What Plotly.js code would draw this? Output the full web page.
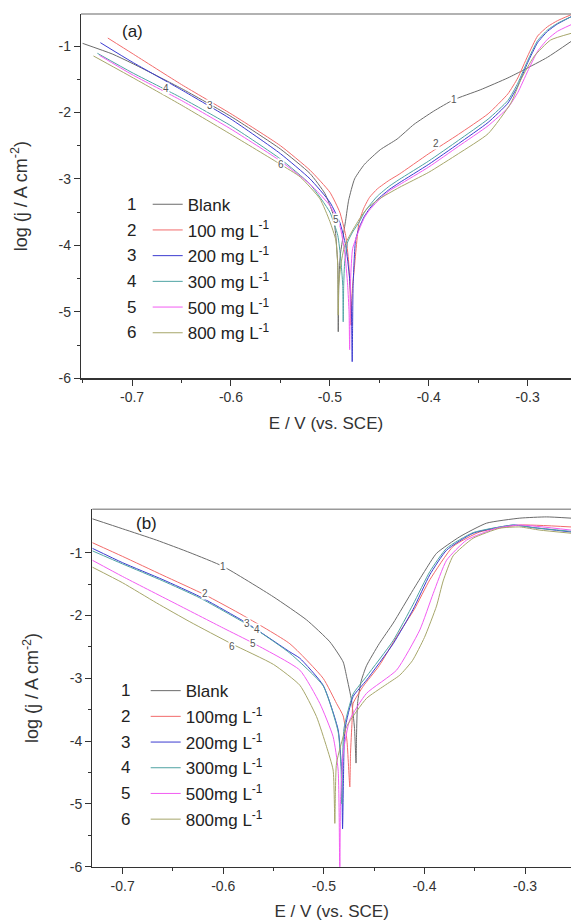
<!DOCTYPE html>
<html><head><meta charset="utf-8">
<script src="https://cdn.plot.ly/plotly-3.0.1.min.js"></script>
<style>html,body{margin:0;padding:0;background:#fff;}#chart{width:571px;height:921px;}</style>
</head><body><div id="chart"></div>
<script>
// ---------- Panel (a) data: E (V vs SCE), log j (A cm-2) ----------
const a1E = [-0.750,-0.720,-0.700,-0.650,-0.600,-0.550,-0.520,-0.505,-0.497,-0.494,-0.492,-0.4915,-0.491,-0.4895,-0.487,-0.484,-0.481,-0.475,-0.465,-0.449,-0.432,-0.415,-0.395,-0.375,-0.348,-0.320,-0.304,-0.280,-0.256];
const a1J = [-0.96,-1.12,-1.26,-1.64,-2.06,-2.55,-2.92,-3.22,-3.52,-3.85,-4.30,-5.30,-4.60,-4.15,-3.90,-3.62,-3.32,-3.00,-2.78,-2.56,-2.40,-2.18,-1.98,-1.81,-1.66,-1.48,-1.36,-1.17,-0.93];
const a2E = [-0.7245,-0.700,-0.650,-0.600,-0.550,-0.520,-0.500,-0.490,-0.484,-0.481,-0.4795,-0.4786,-0.478,-0.477,-0.4757,-0.4707,-0.466,-0.460,-0.452,-0.440,-0.430,-0.400,-0.370,-0.340,-0.320,-0.310,-0.300,-0.290,-0.280,-0.270,-0.2562];
const a2J = [-0.88,-1.11,-1.58,-2.02,-2.50,-2.87,-3.20,-3.50,-3.85,-4.25,-4.70,-5.20,-4.85,-4.60,-4.42,-3.67,-3.45,-3.28,-3.15,-3.02,-2.93,-2.62,-2.33,-2.02,-1.72,-1.48,-1.15,-0.85,-0.71,-0.62,-0.53];
const a3E = [-0.732,-0.700,-0.650,-0.600,-0.550,-0.520,-0.500,-0.490,-0.484,-0.480,-0.4782,-0.4774,-0.4770,-0.4765,-0.474,-0.470,-0.465,-0.460,-0.452,-0.440,-0.430,-0.400,-0.370,-0.340,-0.320,-0.310,-0.300,-0.290,-0.280,-0.270,-0.2562];
const a3J = [-0.95,-1.24,-1.66,-2.10,-2.62,-3.00,-3.35,-3.65,-4.00,-4.50,-5.00,-5.75,-5.20,-4.60,-3.92,-3.72,-3.56,-3.45,-3.31,-3.16,-3.06,-2.78,-2.47,-2.15,-1.86,-1.60,-1.25,-0.95,-0.78,-0.67,-0.56];
const a4E = [-0.735,-0.700,-0.650,-0.600,-0.550,-0.520,-0.500,-0.492,-0.489,-0.487,-0.4865,-0.486,-0.485,-0.482,-0.477,-0.470,-0.465,-0.460,-0.452,-0.440,-0.430,-0.400,-0.370,-0.340,-0.320,-0.310,-0.300,-0.290,-0.280,-0.270,-0.2562];
const a4J = [-1.11,-1.40,-1.78,-2.20,-2.70,-3.08,-3.50,-3.85,-4.20,-4.60,-5.15,-4.60,-4.25,-3.95,-3.80,-3.64,-3.50,-3.40,-3.26,-3.11,-3.01,-2.73,-2.42,-2.10,-1.82,-1.56,-1.22,-0.92,-0.76,-0.66,-0.56];
const a5E = [-0.733,-0.700,-0.650,-0.600,-0.550,-0.520,-0.500,-0.490,-0.485,-0.482,-0.4806,-0.4800,-0.4795,-0.479,-0.477,-0.470,-0.465,-0.460,-0.452,-0.440,-0.430,-0.400,-0.370,-0.340,-0.320,-0.310,-0.300,-0.290,-0.280,-0.270,-0.2562];
const a5J = [-1.14,-1.43,-1.82,-2.25,-2.73,-3.08,-3.40,-3.70,-4.10,-4.60,-5.00,-5.57,-5.00,-4.50,-4.05,-3.75,-3.58,-3.47,-3.34,-3.18,-3.09,-2.82,-2.51,-2.20,-1.93,-1.70,-1.38,-1.08,-0.90,-0.78,-0.68];
const a6E = [-0.739,-0.700,-0.650,-0.600,-0.550,-0.530,-0.510,-0.500,-0.494,-0.492,-0.4915,-0.491,-0.489,-0.485,-0.478,-0.470,-0.462,-0.450,-0.430,-0.400,-0.370,-0.340,-0.317,-0.307,-0.2937,-0.2768,-0.2562];
const a6J = [-1.15,-1.47,-1.89,-2.33,-2.78,-2.97,-3.30,-3.64,-3.92,-4.30,-5.05,-4.60,-4.30,-4.00,-3.80,-3.60,-3.44,-3.30,-3.13,-2.90,-2.62,-2.32,-1.86,-1.51,-1.16,-0.91,-0.81];

// ---------- Panel (b) data ----------
const b1E = [-0.7302,-0.700,-0.6663,-0.633,-0.600,-0.5504,-0.5172,-0.494,-0.4808,-0.4774,-0.4725,-0.4695,-0.468,-0.4675,-0.4665,-0.463,-0.4576,-0.445,-0.431,-0.4112,-0.400,-0.388,-0.3648,-0.3383,-0.3052,-0.2786,-0.2543];
const b1J = [-0.46,-0.62,-0.80,-1.00,-1.22,-1.70,-2.07,-2.42,-2.74,-2.97,-3.35,-3.80,-4.35,-3.90,-3.40,-3.05,-2.80,-2.45,-2.12,-1.59,-1.30,-1.01,-0.745,-0.53,-0.45,-0.43,-0.45];
const b2E = [-0.7302,-0.700,-0.660,-0.6183,-0.5802,-0.5338,-0.5007,-0.4874,-0.4808,-0.477,-0.4742,-0.4735,-0.472,-0.4709,-0.461,-0.445,-0.4277,-0.410,-0.3946,-0.3715,-0.345,-0.3052,-0.2543];
const b2J = [-0.84,-1.06,-1.36,-1.67,-2.00,-2.45,-3.00,-3.40,-3.60,-4.00,-4.73,-4.20,-3.70,-3.40,-3.13,-2.80,-2.34,-1.90,-1.43,-0.90,-0.67,-0.56,-0.59];
const b3E = [-0.7302,-0.700,-0.660,-0.6233,-0.5768,-0.5338,-0.5239,-0.5007,-0.4858,-0.4824,-0.4814,-0.4805,-0.4791,-0.4709,-0.4576,-0.4311,-0.4112,-0.3946,-0.378,-0.3516,-0.3118,-0.2919,-0.2543];
const b3J = [-0.93,-1.16,-1.43,-1.70,-2.12,-2.58,-2.68,-3.11,-3.82,-4.46,-5.40,-4.60,-3.82,-3.29,-3.03,-2.45,-1.90,-1.35,-0.96,-0.69,-0.56,-0.60,-0.67];
const b4E = [-0.7302,-0.700,-0.660,-0.6233,-0.5669,-0.5338,-0.5007,-0.4858,-0.483,-0.4822,-0.4815,-0.480,-0.4709,-0.4576,-0.4311,-0.4112,-0.3946,-0.378,-0.3516,-0.3118,-0.2919,-0.2543];
const b4J = [-0.97,-1.18,-1.45,-1.72,-2.23,-2.60,-3.12,-3.85,-4.40,-5.00,-4.40,-3.80,-3.25,-2.97,-2.40,-1.82,-1.30,-0.93,-0.68,-0.56,-0.60,-0.66];
const b5E = [-0.7302,-0.700,-0.650,-0.600,-0.5703,-0.5239,-0.504,-0.4908,-0.4858,-0.4841,-0.4835,-0.4808,-0.4742,-0.4576,-0.4277,-0.4046,-0.3913,-0.378,-0.3582,-0.3283,-0.3052,-0.2543];
const b5J = [-1.12,-1.38,-1.79,-2.20,-2.44,-2.87,-3.40,-3.93,-4.46,-6.30,-5.00,-4.19,-3.66,-3.24,-2.87,-2.23,-1.65,-1.12,-0.80,-0.61,-0.56,-0.64];
const b6E = [-0.7302,-0.700,-0.6663,-0.6332,-0.5918,-0.550,-0.5239,-0.5073,-0.4973,-0.4908,-0.4891,-0.4885,-0.4874,-0.4774,-0.4576,-0.440,-0.4245,-0.412,-0.400,-0.388,-0.3814,-0.3715,-0.3516,-0.325,-0.3052,-0.2853,-0.2543];
const b6J = [-1.23,-1.48,-1.80,-2.10,-2.45,-2.78,-3.11,-3.61,-4.09,-4.46,-5.31,-4.80,-4.35,-3.77,-3.32,-3.12,-2.95,-2.72,-2.35,-1.85,-1.45,-1.05,-0.77,-0.61,-0.59,-0.64,-0.69];

// ---------- Labels ----------
const curveNums = ['1','2','3','4','5','6'];
const namesA = ['Blank','100 mg L<sup>-1</sup>','200 mg L<sup>-1</sup>','300 mg L<sup>-1</sup>','500 mg L<sup>-1</sup>','800 mg L<sup>-1</sup>'];
const namesB = ['Blank','100mg L<sup>-1</sup>','200mg L<sup>-1</sup>','300mg L<sup>-1</sup>','500mg L<sup>-1</sup>','800mg L<sup>-1</sup>'];
const xTickVals = [-0.7,-0.6,-0.5,-0.4,-0.3];
const xTickText = ['-0.7','-0.6','-0.5','-0.4','-0.3'];
const yTickVals = [-6,-5,-4,-3,-2,-1];
const yTickText = ['-6','-5','-4','-3','-2','-1'];
const xMinorVals = [-0.75,-0.65,-0.55,-0.45,-0.35,-0.25];
const yMinorVals = [-5.5,-4.5,-3.5,-2.5,-1.5];
const xTitle = 'E / V (vs. SCE)';
const yTitle = 'log (j / A cm<sup>-2</sup>)';
// on-curve number labels: [curve number, E, log j]
const aCurveLabels = [['1',-0.3746,-1.81],['2',-0.393,-2.47],['3',-0.6213,-1.89],['4',-0.666,-1.64],['5',-0.4943,-3.61],['6',-0.5498,-2.78]];
const bCurveLabels = [['1',-0.600,-1.22],['2',-0.6183,-1.65],['3',-0.5768,-2.12],['4',-0.5669,-2.23],['5',-0.5703,-2.44],['6',-0.5918,-2.50]];

// ---------- Styles ----------
const colors = ['#6b6b6b','#f26b6b','#3b3bd0','#4fa3a3','#f25cf2','#a6a66a'];
const FONT = 'Arial, "Liberation Sans", sans-serif';
const W = 571, H = 921;
const px = v => v / W;
const py = v => (H - v) / H;

const aE = [a1E,a2E,a3E,a4E,a5E,a6E], aJ = [a1J,a2J,a3J,a4J,a5J,a6J];
const bE = [b1E,b2E,b3E,b4E,b5E,b6E], bJ = [b1J,b2J,b3J,b4J,b5J,b6J];

const traces = [];
for (let i = 0; i < 6; i++) {
  traces.push({x: aE[i], y: aJ[i], xaxis: 'x', yaxis: 'y', type: 'scatter', mode: 'lines',
    name: namesA[i], legend: 'legend', legendgroup: 'a' + i,
    line: {color: colors[i], width: 1, shape: 'spline', smoothing: 0.5}, hoverinfo: 'skip'});
}
for (let i = 0; i < 6; i++) {
  traces.push({x: bE[i], y: bJ[i], xaxis: 'x2', yaxis: 'y2', type: 'scatter', mode: 'lines',
    name: namesB[i], legend: 'legend2', legendgroup: 'b' + i,
    line: {color: colors[i], width: 1, shape: 'spline', smoothing: 0.5}, hoverinfo: 'skip'});
}

function xax(domain, range, anchor) {
  return {domain: domain, range: range, anchor: anchor, tickmode: 'array', tickvals: xTickVals, ticktext: xTickText,
    ticks: 'outside', ticklen: 6, tickwidth: 1, tickcolor: '#333', showline: true, linecolor: '#333', linewidth: 1.2,
    showgrid: false, zeroline: false, tickfont: {family: FONT, size: 14, color: '#333'},
    minor: {tickmode: 'array', tickvals: xMinorVals, ticks: 'outside', ticklen: 3, tickwidth: 1, tickcolor: '#333', showgrid: false},
    title: {text: xTitle, font: {family: FONT, size: 17, color: '#333'}, standoff: 12}};
}
function yax(domain, range, anchor) {
  return {domain: domain, range: range, anchor: anchor, tickmode: 'array', tickvals: yTickVals, ticktext: yTickText,
    ticks: 'outside', ticklen: 6, tickwidth: 1, tickcolor: '#333', showline: true, linecolor: '#333', linewidth: 1.2,
    showgrid: false, zeroline: false, tickfont: {family: FONT, size: 14, color: '#333'},
    minor: {tickmode: 'array', tickvals: yMinorVals, ticks: 'outside', ticklen: 3, tickwidth: 1, tickcolor: '#333', showgrid: false},
    title: {text: yTitle, font: {family: FONT, size: 18, color: '#333'}, standoff: 26}};
}

const annotations = [];
aCurveLabels.forEach(l => annotations.push({x: l[1], y: l[2], xref: 'x', yref: 'y', text: l[0], showarrow: false,
  font: {family: FONT, size: 10, color: '#555'}, bgcolor: 'white', borderpad: 0}));
bCurveLabels.forEach(l => annotations.push({x: l[1], y: l[2], xref: 'x2', yref: 'y2', text: l[0], showarrow: false,
  font: {family: FONT, size: 10, color: '#555'}, bgcolor: 'white', borderpad: 0}));
annotations.push({x: -0.6996, y: -0.785, xref: 'x', yref: 'y', text: '(a)', showarrow: false, font: {family: FONT, size: 17, color: '#222'}});
annotations.push({x: -0.676, y: -0.53, xref: 'x2', yref: 'y2', text: '(b)', showarrow: false, font: {family: FONT, size: 17, color: '#222'}});
// legend numbers
const rowGap = 25.7;
curveNums.forEach((n, k) => {
  annotations.push({x: px(131.7), y: py(204.3 + k * rowGap), xref: 'paper', yref: 'paper', text: n, showarrow: false,
    xanchor: 'center', yanchor: 'middle', font: {family: FONT, size: 17, color: '#222'}});
  annotations.push({x: px(125.7), y: py(690.7 + k * rowGap), xref: 'paper', yref: 'paper', text: n, showarrow: false,
    xanchor: 'center', yanchor: 'middle', font: {family: FONT, size: 17, color: '#222'}});
});

const layout = {
  width: W, height: H, margin: {l: 0, r: 0, t: 0, b: 0}, paper_bgcolor: 'white', plot_bgcolor: 'white',
  showlegend: true,
  xaxis: xax([px(81), 1], [-0.7516, -0.2562], 'y'),
  yaxis: yax([py(378.3), py(14)], [-6, -0.5185], 'x'),
  xaxis2: xax([px(92.3), 1], [-0.7302, -0.2543], 'y2'),
  yaxis2: yax([py(866.7), py(509.3)], [-6, -0.309], 'x2'),
  legend: {x: px(147.7), y: py(186.7), xanchor: 'left', yanchor: 'top', bgcolor: 'rgba(0,0,0,0)', borderwidth: 0,
    traceorder: 'grouped', tracegroupgap: 0.6, font: {family: FONT, size: 17, color: '#222'}},
  legend2: {x: px(145.7), y: py(673.1), xanchor: 'left', yanchor: 'top', bgcolor: 'rgba(0,0,0,0)', borderwidth: 0,
    traceorder: 'grouped', tracegroupgap: 0.6, font: {family: FONT, size: 17, color: '#222'}},
  shapes: [
    {type: 'line', xref: 'paper', yref: 'paper', x0: px(81), x1: 1, y0: py(14), y1: py(14), line: {color: '#999', width: 1.5}},
    {type: 'line', xref: 'paper', yref: 'paper', x0: px(92.3), x1: 1, y0: py(509.3), y1: py(509.3), line: {color: '#999', width: 1.5}}
  ],
  annotations: annotations
};

Plotly.newPlot('chart', traces, layout, {staticPlot: true, displayModeBar: false});
</script>
</body></html>
